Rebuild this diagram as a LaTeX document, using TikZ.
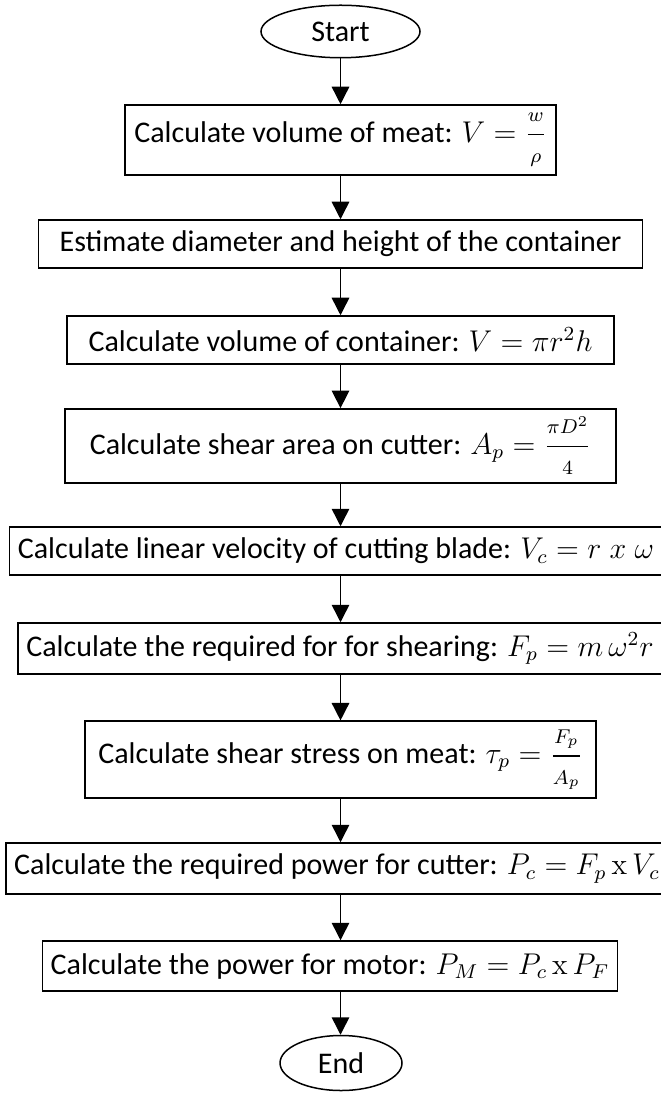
\documentclass[tikz,border=0pt]{standalone}
\usepackage{amsmath}
\usepackage{fontspec}
\setmainfont{Carlito}
\newfontfamily\serifx{Latin Modern Roman}
\usetikzlibrary{arrows.meta,shapes.geometric}

\newcommand{\wfrac}[2]{\genfrac{}{}{}{0}{\scriptstyle #1}{\scriptstyle #2}}
\newcommand{\tms}{\,\text{\serifx x}\,}

\tikzset{
  proc/.style={draw, line width=0.6pt, rectangle, align=center, font=\fontsize{12}{14}\selectfont},
  term/.style={draw, line width=0.6pt, ellipse, inner sep=0pt, font=\fontsize{12}{14}\selectfont},
  flow/.style={line width=0.6pt, -{Triangle[length=7pt,width=7pt]}}
}

\begin{document}
\begin{tikzpicture}[x=0.4pt, y=-0.4pt]
    \useasboundingbox (0,0) rectangle (660,1097);
    \coordinate (spine) at (340.5,0);

    % Start and end
    \node[term, minimum width=63.6pt, minimum height=21pt] (start) at (340.5,31.5) {Start};
    \node[term, minimum width=48.8pt, minimum height=22pt] (stop) at (341,1063) {End};

    % Steps
    \node[proc, minimum width=172.4pt, minimum height=25.6pt] (vol) at (340.5,140) {Calculate volume of meat: $V = \wfrac{w}{\rho}$};
    \node[proc, minimum width=241.6pt, minimum height=19.2pt] (dia) at (340.5,244) {Estimate diameter and height of the container};
    \node[proc, minimum width=218.8pt, minimum height=19.2pt] (cont) at (340.5,340) {Calculate volume of container: $V = \pi r^2 h$};
    \node[proc, minimum width=220.4pt, minimum height=27.2pt] (area) at (340.5,446) {Calculate shear area on cutter: $A_p = \wfrac{\pi D^2}{4}$};
    \node[proc, minimum width=258.4pt, minimum height=19.2pt] (vel) at (336,551) {Calculate linear velocity of cutting blade: $V_c = r\;x\;\omega$};
    \node[proc, minimum width=254.4pt, minimum height=20.4pt] (force) at (340,648.5) {Calculate the required for for shearing: $F_p = m\,\omega^2 r$};
    \node[proc, minimum width=204.4pt, minimum height=29.2pt] (stress) at (340.5,759.5) {Calculate shear stress on meat: $\tau_p = \wfrac{F_p}{A_p}$};
    \node[proc, minimum width=255.2pt, minimum height=20.4pt] (pcut) at (337,868.5) {Calculate the required power for cutter: $P_c = F_p\tms V_c$};
    \node[proc, minimum width=222.4pt, minimum height=20pt] (pmot) at (330,966) {Calculate the power for motor: $P_M = P_c\tms P_F$};

    % Arrows
    \foreach \a/\b in {start/vol, vol/dia, dia/cont, cont/area, area/vel, vel/force, force/stress, stress/pcut, pcut/pmot, pmot/stop}
        \draw[flow] (\a.south -| spine) -- (\b.north -| spine);

\end{tikzpicture}
\end{document}
